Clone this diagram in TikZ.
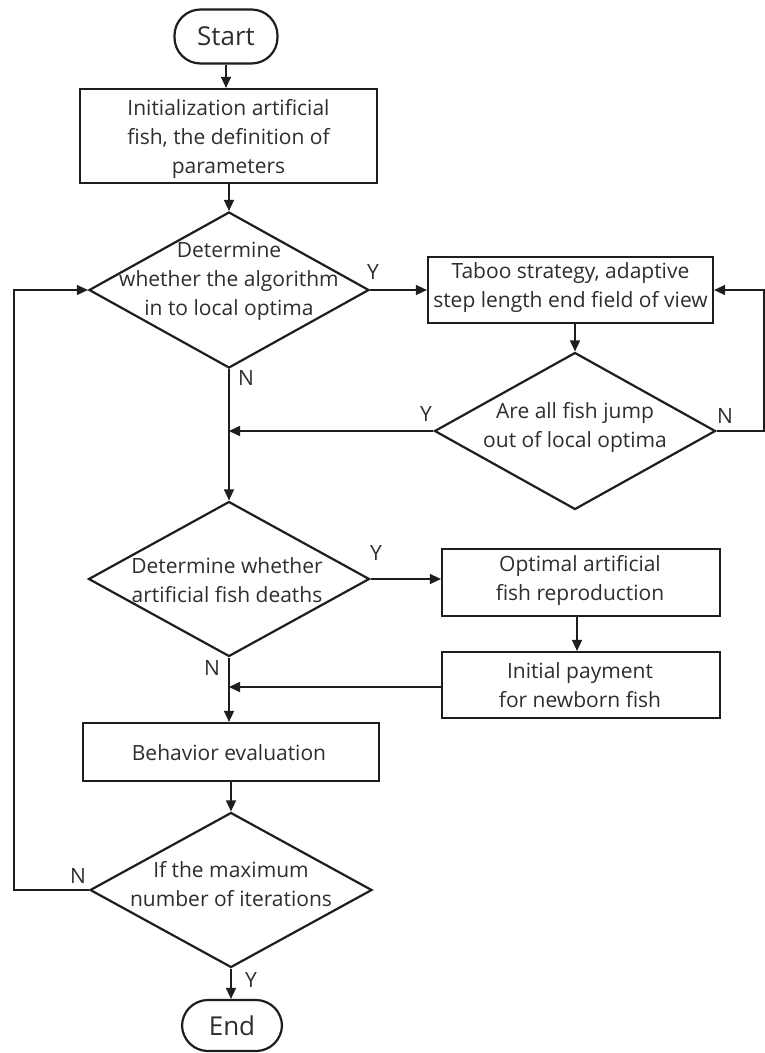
\documentclass[tikz,border=0pt]{standalone}
\usepackage{fontspec}
\setmainfont{Open Sans}
\usetikzlibrary{arrows.meta,shapes.geometric}
\definecolor{ink}{HTML}{1E1E1E}
\definecolor{txtc}{HTML}{2E2E2E}
\begin{document}
\begin{tikzpicture}[x=1pt,y=-1pt,
  boxnode/.style={draw=ink, line width=2.2pt, rectangle, inner sep=0pt, align=center},
  dia/.style={draw=ink, line width=2.2pt, diamond, inner sep=0pt},
  term/.style={draw=ink, line width=2.2pt, rectangle, rounded corners=26pt, inner sep=0pt,
    font=\fontsize{26}{30}\selectfont, text=txtc},
  txt/.style={font=\fontsize{21}{29}\selectfont, align=center, inner sep=0pt, text=txtc},
  lab/.style={font=\fontsize{21}{26}\selectfont, inner sep=0pt, text=txtc},
  arr/.style={draw=ink, line width=1.5pt, -{Triangle[length=11pt,width=10pt]}}
]
\useasboundingbox[fill=white] (0,0) rectangle (765,1053);

% nodes
\node[term, minimum width=103pt, minimum height=54pt] (start) at (226,36.5) {Start};
\node[boxnode, minimum width=297pt, minimum height=94pt] (init) at (228.5,136) {};
\node[txt] (initt) at (228.5,139) {Initialization artificial\\fish, the definition of\\parameters};

\node[dia, minimum width=280pt, minimum height=156pt] (d1) at (229,290) {};
\node[txt] (d1t) at (229,281.5) {Determine\\whether the algorithm\\in to local optima};

\node[boxnode, minimum width=285pt, minimum height=66pt] (taboo) at (570.5,290) {};
\node[txt] (taboot) at (570.5,288) {Taboo strategy, adaptive\\step length end field of view};

\node[dia, minimum width=281pt, minimum height=157pt] (d2) at (575,431) {};
\node[txt] (d2t) at (575,427.5) {Are all fish jump\\out of local optima};

\node[dia, minimum width=281pt, minimum height=155pt] (d3) at (229,579) {};
\node[txt] (d3t) at (227,580) {Determine whether\\artificial fish deaths};

\node[boxnode, minimum width=278pt, minimum height=67pt] (opt) at (581,582.5) {};
\node[txt] (optt) at (580,580.5) {Optimal artificial\\fish reproduction};

\node[boxnode, minimum width=278pt, minimum height=66pt] (ini) at (581,685) {};
\node[txt] (init2) at (580,685.5) {Initial payment\\for newborn fish};

\node[boxnode, minimum width=296pt, minimum height=58pt] (beh) at (231,752) {};
\node[txt] (beht) at (229,753) {Behavior evaluation};

\node[dia, minimum width=282pt, minimum height=155pt] (d4) at (231,890) {};
\node[txt] (d4t) at (231,884.5) {If the maximum\\number of iterations};

\node[term, minimum width=100pt, minimum height=51pt] (end) at (232,1025.5) {End};

\coordinate (fbR) at (764,290);
\coordinate (fbL) at (14,290);

% connectors
\draw[arr] (start.south) -- (start.south |- init.north);
\draw[arr] (d1.north |- init.south) -- (d1.north);
\draw[arr] (d1.east) -- (taboo.west);
\draw[arr] (d2.east) -| (fbR) -- (taboo.east);
\draw[arr] (d2.north |- taboo.south) -- (d2.north);
\draw[arr] (d2.west) -- (d2.west -| d1.south);
\draw[arr] (d1.south) -- (d3.north);
\draw[arr] (d3.east) -- (d3.east -| opt.west);
\draw[arr] ([xshift=-4pt]opt.south) -- ([xshift=-4pt]ini.north);
\draw[arr] ([yshift=-2pt]ini.west) -- ([yshift=-2pt]ini.west -| d3.south);
\draw[arr] (d3.south) -- (d3.south |- beh.north);
\draw[arr] (beh.south) -- (d4.north);
\draw[arr] (d4.west) -| (fbL) -- (d1.west);
\draw[arr] (d4.south) -- (d4.south |- end.north);

% labels
\node[lab] (y1) at (373,272) {Y};
\node[lab] (y2) at (426,414) {Y};
\node[lab] (n2) at (725,416) {N};
\node[lab] (n1) at (246,378) {N};
\node[lab] (y3) at (376,553) {Y};
\node[lab] (n3) at (212,668) {N};
\node[lab] (n4) at (78,876) {N};
\node[lab] (y4) at (251,980) {Y};
\end{tikzpicture}
\end{document}
